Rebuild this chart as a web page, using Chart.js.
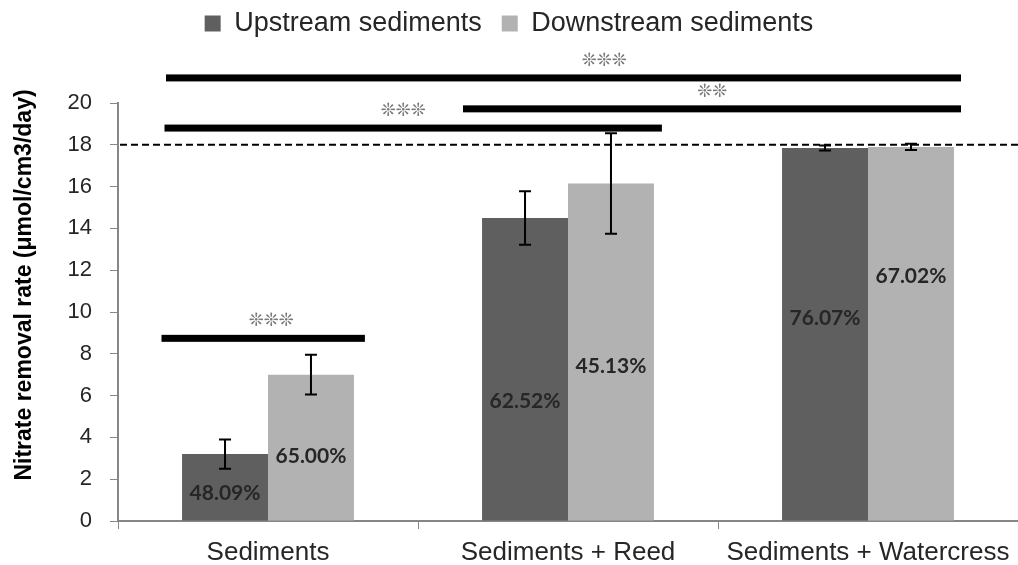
<!DOCTYPE html>
<html>
<head>
<meta charset="utf-8">
<script src="https://cdn.jsdelivr.net/npm/chart.js@4/dist/chart.umd.min.js"></script>
<style>
  html, body { margin: 0; padding: 0; background: #fff; }
  #wrap { width: 1018px; height: 565px; }
</style>
</head>
<body>
<div id="wrap"><canvas id="c"></canvas></div>
<script>
const categories = ['Sediments', 'Sediments + Reed', 'Sediments + Watercress'];
const upstream = [3.2, 14.5, 17.85];
const upstreamErr = [0.7, 1.28, 0.12];
const downstream = [7.0, 16.15, 17.9];
const downstreamErr = [0.95, 2.4, 0.15];
const upstreamPct = ['48.09%', '62.52%', '76.07%'];
const downstreamPct = ['65.00%', '45.13%', '67.02%'];
const yTicks = [0, 2, 4, 6, 8, 10, 12, 14, 16, 18, 20];
const yTitle = 'Nitrate removal rate (μmol/cm3/day)';
const threshold = 18;

// significance brackets: from / to in category index, level in axis units, stars
const brackets = [
  { from: -0.34, to: 2.31, y: 21.2, stars: '❊❊❊', starsAt: 1.12 },
  { from: 0.65, to: 2.31, y: 19.72, stars: '❊❊', starsAt: 1.48 },
  { from: -0.345, to: 1.313, y: 18.8, stars: '❊❊❊', starsAt: 0.45 },
  { from: -0.355, to: 0.323, y: 8.74, stars: '❊❊❊', starsAt: 0.01 }
];

// make room between legend and plot for the brackets
const legendSpace = {
  id: 'legendSpace',
  beforeInit(chart) {
    const fit = chart.legend.fit;
    chart.legend.fit = function () {
      fit.call(this);
      this.height += 56;
    };
  }
};

const extras = {
  id: 'extras',
  afterDatasetsDraw(chart) {
    const ctx = chart.ctx;
    const x = chart.scales.x, y = chart.scales.y;
    const area = chart.chartArea;
    ctx.save();

    // dashed reference line
    ctx.strokeStyle = '#000';
    ctx.lineWidth = 2;
    ctx.setLineDash([7, 4]);
    ctx.beginPath();
    ctx.moveTo(area.left + 2, y.getPixelForValue(threshold));
    ctx.lineTo(area.right, y.getPixelForValue(threshold));
    ctx.stroke();
    ctx.setLineDash([]);

    // error bars
    const errs = [upstreamErr, downstreamErr];
    chart.data.datasets.forEach((ds, di) => {
      chart.getDatasetMeta(di).data.forEach((bar, i) => {
        const v = ds.data[i], e = errs[di][i];
        const top = y.getPixelForValue(v + e), bot = y.getPixelForValue(v - e);
        ctx.lineWidth = 2;
        ctx.beginPath();
        ctx.moveTo(bar.x, top); ctx.lineTo(bar.x, bot);
        ctx.moveTo(bar.x - 6, top); ctx.lineTo(bar.x + 6, top);
        ctx.moveTo(bar.x - 6, bot); ctx.lineTo(bar.x + 6, bot);
        ctx.stroke();
      });
    });

    // percent labels inside the bars
    const pctY = [[1.33, 5.75, 9.7], [3.1, 7.4, 11.7]];
    const pcts = [upstreamPct, downstreamPct];
    ctx.font = 'bold 21px Lato';
    ctx.fillStyle = '#262626';
    ctx.textAlign = 'center';
    ctx.textBaseline = 'middle';
    chart.data.datasets.forEach((ds, di) => {
      chart.getDatasetMeta(di).data.forEach((bar, i) => {
        ctx.fillText(pcts[di][i], bar.x, y.getPixelForValue(pctY[di][i]));
      });
    });

    // significance bars
    brackets.forEach(b => {
      const py = y.getPixelForValue(b.y);
      ctx.fillStyle = '#000';
      ctx.fillRect(x.getPixelForValue(b.from), py - 3.5, x.getPixelForValue(b.to) - x.getPixelForValue(b.from), 7);
      ctx.fillStyle = '#777';
      ctx.font = '18px "DejaVu Sans"';
      ctx.fillText(b.stars, x.getPixelForValue(b.starsAt), py - 17);
    });

    // y axis title
    ctx.translate(25, (area.top + area.bottom) / 2 - 27);
    ctx.rotate(-Math.PI / 2);
    ctx.fillStyle = '#000';
    ctx.font = 'bold 23px "Liberation Sans"';
    ctx.fillText(yTitle, 0, 0);
    ctx.restore();
  }
};

new Chart(document.getElementById('c'), {
  type: 'bar',
  data: {
    labels: categories,
    datasets: [
      { label: 'Upstream sediments', data: upstream, backgroundColor: '#5f5f5f' },
      { label: 'Downstream sediments', data: downstream, backgroundColor: '#b2b2b2' }
    ]
  },
  plugins: [legendSpace, extras],
  options: {
    responsive: true,
    maintainAspectRatio: false,
    animation: false,
    layout: { padding: { top: 5, right: 0, left: 0, bottom: 0 } },
    datasets: { bar: { categoryPercentage: 0.573, barPercentage: 1 } },
    plugins: {
      legend: {
        position: 'top',
        labels: {
          font: { family: 'Liberation Sans', size: 27 },
          color: '#262626',
          boxWidth: 16,
          boxHeight: 16,
          padding: 5,
          generateLabels: chart => {
            const items = Chart.defaults.plugins.legend.labels.generateLabels(chart);
            items.forEach((it, i) => { if (i < items.length - 1) it.text += '  '; });
            return items;
          }
        }
      },
      tooltip: { enabled: false }
    },
    scales: {
      x: {
        grid: { offset: true, drawOnChartArea: false, tickLength: 8, color: '#868686' },
        border: { color: '#868686', width: 2 },
        ticks: { font: { family: 'Liberation Sans', size: 26 }, color: '#262626', padding: 8 },
        afterFit: s => { s.height = 44; }
      },
      y: {
        min: 0,
        max: 20,
        afterBuildTicks: s => { s.ticks = yTicks.map(v => ({ value: v })); },
        grid: { drawOnChartArea: false, tickLength: 8, color: '#868686' },
        border: { color: '#868686', width: 2 },
        ticks: { font: { family: 'Liberation Sans', size: 22 }, color: '#262626', padding: 18 },
        afterFit: s => { s.width = 118; }
      }
    }
  }
});
</script>
</body>
</html>
